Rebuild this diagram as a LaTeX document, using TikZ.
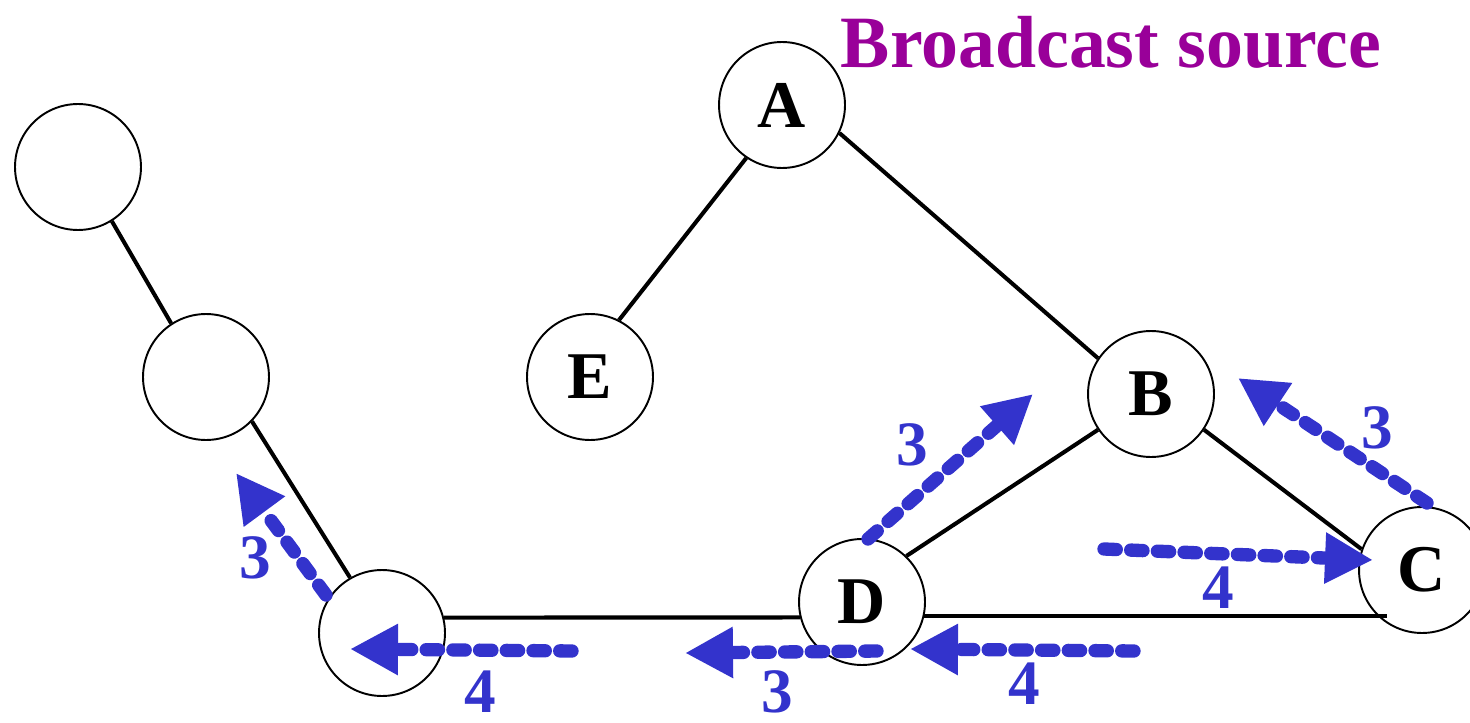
\documentclass[tikz,border=0pt]{standalone}
\usepackage{fontspec}
\setmainfont{Liberation Serif}
\usetikzlibrary{arrows.meta}
\definecolor{floodblue}{RGB}{51,51,204}
\definecolor{srcpurple}{RGB}{153,0,153}

\tikzset{
  station/.style={circle, draw, line width=1.1pt, minimum size=2.52cm, inner sep=0pt,
    font=\fontsize{38}{40}\selectfont\bfseries},
  link/.style={line width=2.3pt},
  flood/.style={draw=floodblue, line width=7.6pt, line cap=round,
    dash pattern=on 7pt off 8.2pt, -{Triangle[length=0.96cm,width=0.96cm]}},
  hops/.style={text=floodblue, inner sep=0.5pt, font=\fontsize{36}{38}\selectfont\bfseries}
}

\begin{document}
\begin{tikzpicture}[x=0.02cm, y=-0.02cm]
  \useasboundingbox (0,0) rectangle (1470,723);

  % stations
  \node[station] (n1) at (78,167) {};
  \node[station] (n2) at (206,377) {};
  \node[station] (n3) at (382,633) {};
  \node[station] (a) at (782,105) {A};
  \node[station] (e) at (590,377) {E};
  \node[station] (b) at (1151,394) {B};
  \node[station] (d) at (862,602) {D};
  \node[station] (c) at (1422,570) {C};

  \node[text=srcpurple, font=\fontsize{42}{44}\selectfont\bfseries] (src) at (1111,42) {Broadcast source};

  % links
  \draw[link] (n1.302) -- (n2.123);
  \draw[link] (n2.316) -- (n3.120);
  \draw[link] (a.236) -- (e.63);
  \draw[link] (a.334) -- (b.146);
  \draw[link] (b.214) -- (d.46);
  \draw[link] (b.326) -- (c.161);
  \draw[link] (n3.14) -- (d.194);
  \draw[link] (d.347) -- (c.237 |- d.347);

  % flooded copies
  \coordinate (f1s) at (572,651);  \coordinate (f1e) at (350,649);
  \coordinate (f2s) at (877,651);  \coordinate (f2e) at (685,653);
  \coordinate (f3s) at (1134,651); \coordinate (f3e) at (910,649);
  \coordinate (f4s) at (868,539);  \coordinate (f4e) at (1033,394);
  \coordinate (f5s) at (1104,549); \coordinate (f5e) at (1373,560);
  \coordinate (f6s) at (1427,503); \coordinate (f6e) at (1238,378);
  \coordinate (f7s) at (326,595);  \coordinate (f7e) at (236,473);

  \draw[flood] (f1s) -- (f1e);
  \draw[flood] (f2s) -- (f2e);
  \draw[flood] (f3s) -- (f3e);
  \draw[flood] (f4s) -- (f4e);
  \draw[flood] (f5s) -- (f5e);
  \draw[flood] (f6s) -- (f6e);
  \draw[flood] (f7s) -- (f7e);

  % hop counts
  \node[hops] (h1) at (480,692) {4};
  \node[hops] (h2) at (777,692) {3};
  \node[hops] (h3) at (1024,684) {4};
  \node[hops] (h4) at (912,445) {3};
  \node[hops] (h5) at (1218,588) {4};
  \node[hops] (h6) at (1377,428) {3};
  \node[hops] (h7) at (255,558) {3};
\end{tikzpicture}
\end{document}
